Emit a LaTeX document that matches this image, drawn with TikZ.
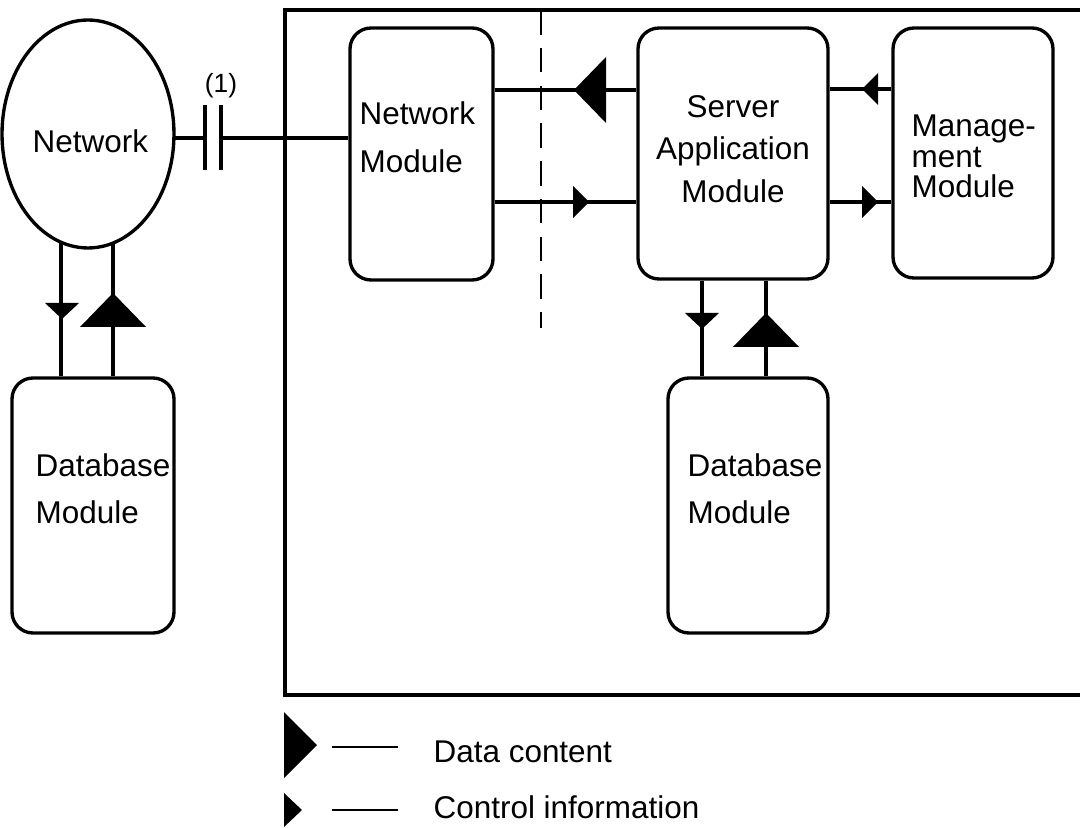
\documentclass[tikz,border=0pt]{standalone}
\usepackage{fontspec}
\setmainfont{Liberation Sans}
\usetikzlibrary{shapes.geometric,fit}
\begin{document}
\begin{tikzpicture}[x=0.02cm,y=-0.02cm,
  line width=1.9pt,
  box/.style={draw,rounded corners=0.42cm,inner sep=0pt,line width=1.9pt},
  txt/.style={inner sep=0pt,font=\fontsize{17.9}{21}\selectfont},
  headfill/.style={fill=black,draw=none}]
\useasboundingbox (0,0) rectangle (1080,828);
% frame
\draw (1082,10) -- (285,10) -- (285,695) -- (1082,695);
% dashed separator
\coordinate (dtop) at (541,10);
\coordinate (dbot) at (541,328);
\draw[line width=1.1pt,dash pattern=on 14pt off 7.5pt] (dtop) -- (dbot);
% network ellipse
\node[draw,ellipse,minimum width=3.44cm,minimum height=4.56cm,inner sep=0pt,outer sep=0pt] (net) at (88,134) {};
\node[txt,anchor=base west] (nettxt) at (31,153) {Network};
% boxes
\node[box,fit={(350,28) (493,280)}] (nm) {};
\node[box,fit={(638,28) (828,279)}] (sa) {};
\node[box,fit={(893,28) (1053,278)}] (mg) {};
\node[box,fit={(12,378) (174,633)}] (dbl) {};
\node[box,fit={(668,378) (828,633)}] (dbr) {};
% texts
\node[txt,anchor=base west] (nm1) at (358,125) {Network};
\node[txt,anchor=base west] (nm2) at (358,173) {Module};
\node[txt,anchor=base] (sa1) at (733,118) {Server};
\node[txt,anchor=base] (sa2) at (733,160) {Application};
\node[txt,anchor=base] (sa3) at (733,203) {Module};
\node[txt,anchor=base west] (mg1) at (910,137) {Manage-};
\node[txt,anchor=base west] (mg2) at (910,168) {ment};
\node[txt,anchor=base west] (mg3) at (910,198) {Module};
\node[txt,anchor=base west] (dbl1) at (34,477) {Database};
\node[txt,anchor=base west] (dbl2) at (34,523) {Module};
\node[txt,anchor=base west] (dbr1) at (686,477) {Database};
\node[txt,anchor=base west] (dbr2) at (686,523) {Module};
% capacitor link
\coordinate (yc) at (0,138);
\coordinate (c1t) at (205,105); \coordinate (c1b) at (205,170);
\coordinate (c2t) at (221,105); \coordinate (c2b) at (221,170);
\draw (c1t) -- (c1b);
\draw (c2t) -- (c2b);
\draw (net.east |- yc) -- (c1t |- yc);
\draw (c2t |- yc) -- (nm.west |- yc);
\node[inner sep=0pt,font=\fontsize{15}{18}\selectfont,anchor=base] (lab1) at (221,93) {(1)};
% NM <-> SA
\coordinate (ya) at (0,90);
\coordinate (yb) at (0,202);
\draw (nm.east |- ya) -- (sa.west |- ya);
\draw (nm.east |- yb) -- (sa.west |- yb);
\fill[headfill] (574,90) -- (606,57) -- (606,123) -- cycle;
\fill[headfill] (589,202) -- (573,186) -- (573,218) -- cycle;
% SA <-> MG
\coordinate (yd) at (0,89);
\draw (sa.east |- yd) -- (mg.west |- yd);
\draw (sa.east |- yb) -- (mg.west |- yb);
\fill[headfill] (862,89) -- (878,73) -- (878,105) -- cycle;
\fill[headfill] (878,202) -- (862,186) -- (862,218) -- cycle;
% network <-> left DB
\draw (net.256.5) -- (net.256.5 |- dbl.north);
\draw (net.283.3) -- (net.283.3 |- dbl.north);
\fill[headfill] (62,319) -- (45,303) -- (79,303) -- cycle;
\fill[headfill] (113,293) -- (80,327) -- (146,327) -- cycle;
% SA <-> right DB
\coordinate (xl) at (702,0);
\coordinate (xr) at (766,0);
\draw (xl |- sa.south) -- (xl |- dbr.north);
\draw (xr |- sa.south) -- (xr |- dbr.north);
\fill[headfill] (702,329) -- (685,313) -- (719,313) -- cycle;
\fill[headfill] (766,313) -- (733,347) -- (799,347) -- cycle;
% legend
\fill[headfill] (317,745) -- (284,712) -- (284,778) -- cycle;
\fill[headfill] (302,810) -- (284,793) -- (284,827) -- cycle;
\coordinate (l1a) at (332,747); \coordinate (l1b) at (398,747);
\coordinate (l2a) at (332,810); \coordinate (l2b) at (398,810);
\draw[line width=1.3pt] (l1a) -- (l1b);
\draw[line width=1.3pt] (l2a) -- (l2b);
\node[txt,anchor=base west] (leg1) at (432,762) {Data content};
\node[txt,anchor=base west] (leg2) at (432,818) {Control information};
\end{tikzpicture}
\end{document}
